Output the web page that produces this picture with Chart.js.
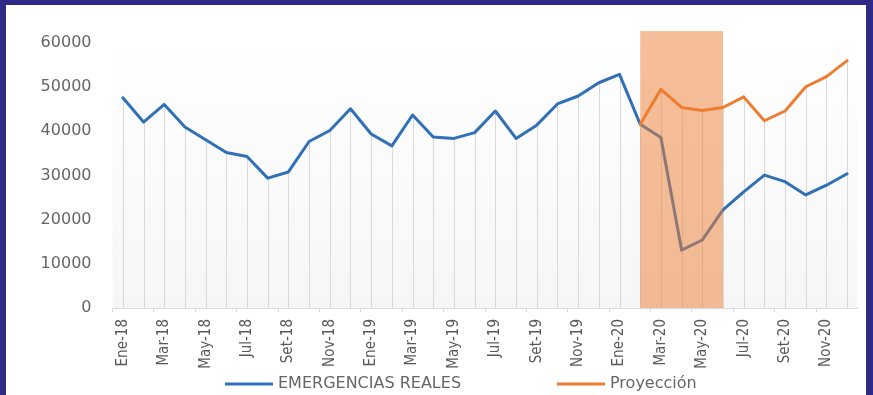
<!DOCTYPE html>
<html>
<head>
<meta charset="utf-8">
<script src="https://cdn.jsdelivr.net/npm/chart.js@4.4.1/dist/chart.umd.min.js"></script>
<style>
  html, body { margin: 0; padding: 0; width: 873px; height: 395px; overflow: hidden; background: #2D2B86; }
  #panel { position: absolute; left: 6px; top: 5px; width: 860px; height: 390px; background: #ffffff; }
  canvas { display: block; }
</style>
</head>
<body>
<div id="panel"><canvas id="chart" width="860" height="390"></canvas></div>
<script>
// Monthly categories, Ene-18 .. Dic-20
const months = [
  'Ene-18','Feb-18','Mar-18','Abr-18','May-18','Jun-18','Jul-18','Ago-18','Set-18','Oct-18','Nov-18','Dic-18',
  'Ene-19','Feb-19','Mar-19','Abr-19','May-19','Jun-19','Jul-19','Ago-19','Set-19','Oct-19','Nov-19','Dic-19',
  'Ene-20','Feb-20','Mar-20','Abr-20','May-20','Jun-20','Jul-20','Ago-20','Set-20','Oct-20','Nov-20','Dic-20'
];

// Actual emergencies per month
const emergenciasReales = [
  47600, 42100, 46100, 41000, 38100, 35200, 34300, 29400, 30800, 37700, 40200, 45100,
  39400, 36700, 43700, 38700, 38400, 39700, 44600, 38400, 41400, 46200, 48000, 51000,
  52900, 41600, 38600, 13100, 15400, 22200, 26300, 30100, 28600, 25600, 27800, 30400
];

// Projection, starting at Feb-20
const proyeccion = [
  null, null, null, null, null, null, null, null, null, null, null, null,
  null, null, null, null, null, null, null, null, null, null, null, null,
  null, 41600, 49500, 45400, 44700, 45400, 47800, 42400, 44600, 50100, 52400, 56000
];

// Value axis
const yMin = 0;
const yMax = 60000;
const yStep = 10000;

// Highlighted period (from / to category, upper value of the band)
const bandFrom = 'Feb-20';
const bandTo = 'Jun-20';
const bandTop = 62700;

const BLUE = '#3070B6';
const ORANGE = '#ED7D31';
const GREY_TEXT = '#666666';
const AXIS_GREY = '#D9D9D9';

// Soft plot-area background
const plotBackground = {
  id: 'plotBackground',
  beforeDraw(chart) {
    const { ctx, chartArea } = chart;
    const y = chart.scales.y;
    const top = y.getPixelForValue(bandTop);
    const g = ctx.createLinearGradient(0, top, 0, chartArea.bottom);
    g.addColorStop(0, '#ffffff');
    g.addColorStop(1, '#f6f6f6');
    ctx.save();
    ctx.fillStyle = g;
    ctx.fillRect(chartArea.left, top, chartArea.right - chartArea.left, chartArea.bottom - top);
    ctx.restore();
  }
};

// Vertical drop lines from the axis up to the highest point of each month
const dropLines = {
  id: 'dropLines',
  beforeDatasetsDraw(chart) {
    const { ctx, chartArea } = chart;
    const x = chart.scales.x, y = chart.scales.y;
    ctx.save();
    ctx.strokeStyle = AXIS_GREY;
    ctx.lineWidth = 1;
    chart.data.labels.forEach((lab, i) => {
      const vals = chart.data.datasets.map(d => d.data[i]).filter(v => v !== null && v !== undefined);
      if (!vals.length) return;
      const top = y.getPixelForValue(Math.max(...vals));
      const px = Math.round(x.getPixelForValue(i)) + 0.5;
      ctx.beginPath();
      ctx.moveTo(px, chartArea.bottom);
      ctx.lineTo(px, top);
      ctx.stroke();
    });
    ctx.restore();
  }
};

// Translucent band drawn over the actual series, under the projection
const periodBand = {
  id: 'periodBand',
  afterDatasetDraw(chart, args) {
    if (args.index !== 0) return;
    const { ctx, chartArea } = chart;
    const x = chart.scales.x, y = chart.scales.y;
    const x0 = x.getPixelForValue(months.indexOf(bandFrom));
    const x1 = x.getPixelForValue(months.indexOf(bandTo));
    const top = y.getPixelForValue(bandTop);
    ctx.save();
    ctx.fillStyle = 'rgba(237,125,49,0.5)';
    ctx.fillRect(x0, top, x1 - x0, chartArea.bottom - top);
    ctx.restore();
  }
};

// Legend row below the axis labels
const lineLegend = {
  id: 'lineLegend',
  afterDraw(chart) {
    const { ctx } = chart;
    const starts = [219, 551];
    const yMid = 379;
    ctx.save();
    ctx.font = '16px "DejaVu Sans", sans-serif';
    ctx.textBaseline = 'middle';
    ctx.textAlign = 'left';
    chart.data.datasets.forEach((ds, i) => {
      const x0 = starts[i];
      ctx.strokeStyle = ds.borderColor;
      ctx.lineWidth = 3;
      ctx.beginPath();
      ctx.moveTo(x0, yMid);
      ctx.lineTo(x0 + 48, yMid);
      ctx.stroke();
      ctx.fillStyle = GREY_TEXT;
      ctx.fillText(ds.label, x0 + 53, yMid);
    });
    ctx.restore();
  }
};

new Chart(document.getElementById('chart'), {
  type: 'line',
  data: {
    labels: months,
    datasets: [
      {
        label: 'EMERGENCIAS REALES',
        data: emergenciasReales,
        borderColor: BLUE,
        backgroundColor: BLUE,
        borderWidth: 3,
        borderJoinStyle: 'round',
        borderCapStyle: 'round',
        pointRadius: 0,
        tension: 0,
        fill: false,
        order: 2
      },
      {
        label: 'Proyección',
        data: proyeccion,
        borderColor: ORANGE,
        backgroundColor: ORANGE,
        borderWidth: 3,
        borderJoinStyle: 'round',
        borderCapStyle: 'round',
        pointRadius: 0,
        tension: 0,
        fill: false,
        spanGaps: false,
        order: 1
      }
    ]
  },
  options: {
    responsive: false,
    animation: false,
    devicePixelRatio: 1,
    layout: { padding: { left: 0, right: 8.5, top: 38, bottom: 0 } },
    plugins: {
      legend: { display: false },
      tooltip: { enabled: false }
    },
    scales: {
      x: {
        type: 'category',
        offset: true,
        border: { display: true, color: AXIS_GREY, width: 1 },
        grid: {
          display: true,
          offset: true,
          drawOnChartArea: false,
          drawTicks: true,
          tickLength: 4,
          tickColor: c => (c.index % 2 === 0 ? AXIS_GREY : 'rgba(0,0,0,0)')
        },
        ticks: {
          autoSkip: false,
          maxRotation: 90,
          minRotation: 90,
          padding: 7,
          color: '#5a5a5a',
          font: { family: '"DejaVu Sans Condensed", sans-serif', size: 15 },
          callback: function (v, i) { return i % 2 === 0 ? this.getLabelForValue(v) : ''; }
        },
        afterFit: s => { s.height = 87; s.paddingLeft = 0; s.paddingRight = 0; }
      },
      y: {
        min: yMin,
        max: yMax,
        border: { display: false },
        grid: { display: false, drawTicks: false },
        ticks: {
          stepSize: yStep,
          padding: 21,
          color: GREY_TEXT,
          font: { family: '"DejaVu Sans", sans-serif', size: 16 },
          callback: v => String(v)
        },
        afterFit: s => { s.width = 106.5; s.paddingTop = 0; s.paddingBottom = 0; }
      }
    }
  },
  plugins: [plotBackground, dropLines, periodBand, lineLegend]
});
</script>
</body>
</html>
